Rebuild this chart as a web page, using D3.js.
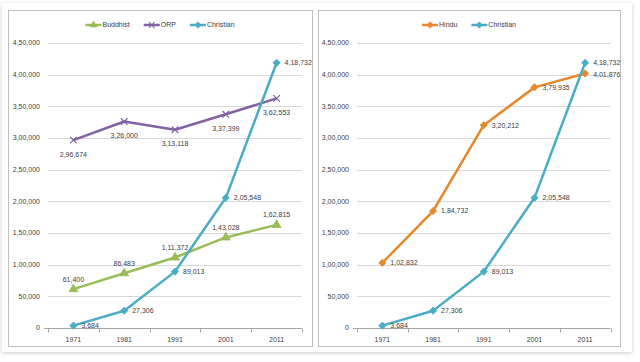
<!DOCTYPE html>
<html>
<head>
<meta charset="utf-8">
<script src="https://cdn.jsdelivr.net/npm/d3@7"></script>
<style>
  body { margin: 0; background: #fff; }
  text { font-family: "Liberation Sans", Arial, sans-serif; fill: #404040; }
</style>
</head>
<body>
<div id="chart"></div>
<script>
// census years on the x axis
const years = ["1971", "1981", "1991", "2001", "2011"];

// population series
const buddhist  = [61400, 86483, 111372, 143028, 162815];
const orp       = [296674, 326000, 313118, 337399, 362553];
const christian = [3684, 27306, 89013, 205548, 418732];
const hindu     = [102832, 184732, 320212, 379935, 401876];

const yTicks = [0, 50000, 100000, 150000, 200000, 250000, 300000, 350000, 400000, 450000];

// indian digit grouping: 4,50,000
const indian = n => {
    const s = String(Math.round(n));
    if (s.length <= 3) return s;
    const last3 = s.slice(-3);
    let rest = s.slice(0, -3);
    const parts = [];
    while (rest.length > 2) {
        parts.unshift(rest.slice(-2));
        rest = rest.slice(0, -2);
    }
    if (rest.length) parts.unshift(rest);
    return parts.join(",") + "," + last3;
};

const width = 640, height = 362;
const fontSize = "7px";

const svg = d3.select("#chart")
    .append("svg")
        .attr("width", width)
        .attr("height", height);

const defs = svg.append("defs");
const shadow = defs.append("filter").attr("id", "shadow")
    .attr("x", "-5%").attr("y", "-5%").attr("width", "110%").attr("height", "110%");
shadow.append("feGaussianBlur").attr("in", "SourceAlpha").attr("stdDeviation", 2);
shadow.append("feOffset").attr("dx", 0).attr("dy", 1).attr("result", "blur");
shadow.append("feComponentTransfer").append("feFuncA").attr("type", "linear").attr("slope", 0.2);
const merge = shadow.append("feMerge");
merge.append("feMergeNode");
merge.append("feMergeNode").attr("in", "SourceGraphic");

// the card behind both panels
svg.append("rect")
    .attr("x", 2).attr("y", 3)
    .attr("width", 630).attr("height", 349)
    .attr("fill", "#fff")
    .attr("filter", "url(#shadow)");

const markerPath = (type, size) => {
    if (type === "triangle") return d3.symbol(d3.symbolTriangle, size)();
    if (type === "x") return d3.symbol(d3.symbolTimes, size)();
    return d3.symbol(d3.symbolSquare, size)();
};
// squares are turned 45 degrees to make excel-like diamonds
const markerRotate = type => type === "diamond" ? " rotate(45)" : "";

const yScale = d3.scaleLinear().domain([0, 450000]).range([328, 43]);

function drawPanel(box, plotLeft, plotRight, series) {
    const g = svg.append("g");

    g.append("rect")
        .attr("x", box.x + 0.5).attr("y", box.y + 0.5)
        .attr("width", box.w).attr("height", box.h)
        .attr("fill", "#fff")
        .attr("stroke", "#bfbfbf");

    const xScale = d3.scaleBand()
        .domain(years)
        .range([plotLeft, plotRight]);
    const cx = d => xScale(d) + xScale.bandwidth() / 2;

    // gridlines
    g.append("g").selectAll("line")
        .data(yTicks.slice(1))
        .join("line")
            .attr("x1", plotLeft).attr("x2", plotRight)
            .attr("y1", d => Math.round(yScale(d)) + 0.5)
            .attr("y2", d => Math.round(yScale(d)) + 0.5)
            .attr("stroke", "#d9d9d9")
            .attr("stroke-width", 1.2);

    // y labels
    g.append("g").selectAll("text")
        .data(yTicks)
        .join("text")
            .attr("x", plotLeft - 8)
            .attr("y", d => yScale(d))
            .attr("dy", "0.35em")
            .attr("text-anchor", "end")
            .style("font-size", fontSize)
            .text(d => indian(d));

    // y tick at zero
    g.append("line")
        .attr("x1", plotLeft - 4).attr("x2", plotLeft)
        .attr("y1", Math.round(yScale(0)) + 0.5).attr("y2", Math.round(yScale(0)) + 0.5)
        .attr("stroke", "#a6a6a6");

    // x axis
    const xAxis = g.append("g")
        .attr("transform", `translate(0, ${Math.round(yScale(0)) + 0.5})`);
    xAxis.append("line")
        .attr("x1", plotLeft).attr("x2", plotRight)
        .attr("stroke", "#a6a6a6");
    xAxis.selectAll(".tk")
        .data(years.map(d => xScale(d)).concat([plotRight]))
        .join("line")
            .attr("class", "tk")
            .attr("x1", d => Math.round(d) + 0.5).attr("x2", d => Math.round(d) + 0.5)
            .attr("y1", 0).attr("y2", 4)
            .attr("stroke", "#a6a6a6");
    xAxis.selectAll("text")
        .data(years)
        .join("text")
            .attr("x", d => cx(d))
            .attr("y", 13)
            .attr("text-anchor", "middle")
            .style("font-size", fontSize)
            .text(d => d);

    const line = d3.line()
        .x((d, i) => cx(years[i]))
        .y(d => yScale(d));

    series.forEach(s => {
        g.append("path")
            .datum(s.values)
            .attr("fill", "none")
            .attr("stroke", s.color)
            .attr("stroke-width", 2.5)
            .attr("stroke-linejoin", "round")
            .attr("d", line);

        g.append("g").selectAll("path")
            .data(s.values)
            .join("path")
                .attr("transform", (d, i) => `translate(${cx(years[i])}, ${yScale(d)})` + markerRotate(s.marker))
                .attr("d", markerPath(s.marker, s.marker === "x" ? 30 : s.marker === "triangle" ? 34 : 26))
                .attr("fill", s.marker === "x" ? "none" : s.color)
                .attr("stroke", s.color)
                .attr("stroke-width", s.marker === "x" ? 1.2 : 0.8);

        g.append("g").selectAll("text")
            .data(s.values)
            .join("text")
                .attr("x", (d, i) => cx(years[i]) + (s.labelPos === "right" ? 8 : 0))
                .attr("y", (d, i) => yScale(d) + (s.labelPos === "above" ? -10 : s.labelPos === "below" ? 14 : 0) + (s.labelDy ? s.labelDy[i] : 0))
                .attr("dy", "0.35em")
                .attr("text-anchor", s.labelPos === "right" ? "start" : "middle")
                .style("font-size", fontSize)
                .text(d => indian(d));
    });

    // legend centred on the panel
    const legend = g.append("g");
    let lx = 0;
    series.forEach(s => {
        const item = legend.append("g").attr("transform", `translate(${lx}, 0)`);
        item.append("line")
            .attr("x1", 0).attr("x2", 16)
            .attr("stroke", s.color).attr("stroke-width", 2.5);
        item.append("path")
            .attr("transform", "translate(8, 0)" + markerRotate(s.marker))
            .attr("d", markerPath(s.marker, s.marker === "x" ? 22 : 20))
            .attr("fill", s.marker === "x" ? "none" : s.color)
            .attr("stroke", s.color)
            .attr("stroke-width", s.marker === "x" ? 1.1 : 0.6);
        const t = item.append("text")
            .attr("x", 17)
            .attr("dy", "0.35em")
            .style("font-size", fontSize)
            .text(s.name);
        lx += 17 + t.node().getComputedTextLength() + 14;
    });
    const legendW = lx - 14;
    legend.attr("transform", `translate(${box.x + box.w / 2 - legendW / 2}, 25)`);
}

const cBlue = "#4bacc6", cGreen = "#9bbb59", cPurple = "#8064a2", cOrange = "#e6892e";

drawPanel({x: 8, y: 10, w: 304, h: 336}, 48, 302, [
    {name: "Buddhist", values: buddhist, color: cGreen, marker: "triangle", labelPos: "above"},
    {name: "ORP", values: orp, color: cPurple, marker: "x", labelPos: "below"},
    {name: "Christian", values: christian, color: cBlue, marker: "diamond", labelPos: "right"}
]);

drawPanel({x: 318, y: 10, w: 302, h: 336}, 357, 610.5, [
    {name: "Hindu", values: hindu, color: cOrange, marker: "diamond", labelPos: "right", labelDy: [0, 0, 0, 0, 1]},
    {name: "Christian", values: christian, color: cBlue, marker: "diamond", labelPos: "right"}
]);
</script>
</body>
</html>
